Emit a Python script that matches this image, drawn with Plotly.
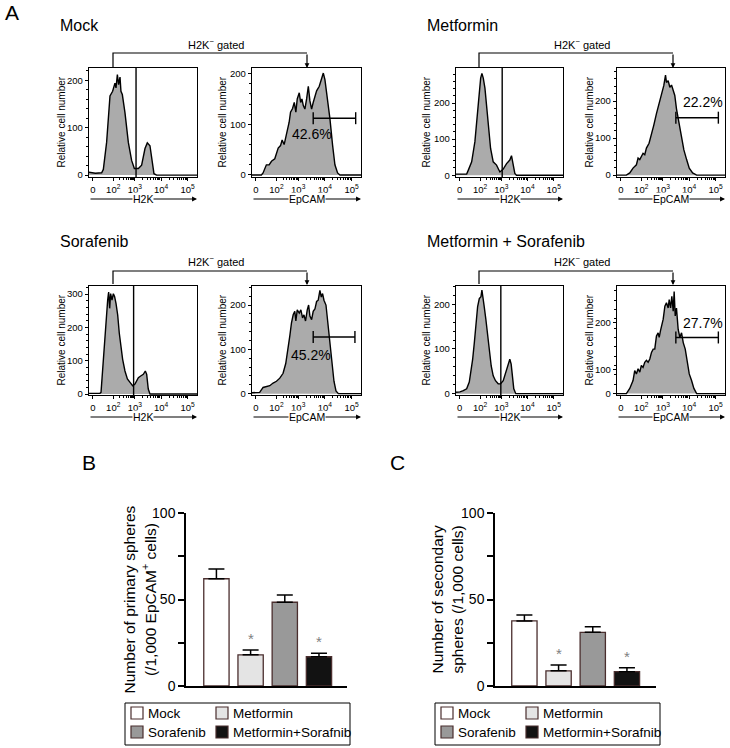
import math
import plotly.graph_objects as go

W, H = 730, 748
FONT = "Arial, Liberation Sans, sans-serif"


def PX(x):
    return x / W


def PY(y):
    return 1 - y / H


# ---------------- data: flow histograms (channel, count) ----------------
HIST_TICK_TEXT = ["0", "10<sup>2</sup>", "10<sup>3</sup>", "10<sup>4</sup>", "10<sup>5</sup>"]
HIST_TICK_CH = [36, 230, 434, 684, 935]

MOCK_H2K_CH = [0, 60, 120, 136, 167, 199, 224, 246, 256, 269, 281, 294, 303, 316, 341, 373, 404, 430, 468, 499, 531, 553, 578, 600, 616, 641, 1024]
MOCK_H2K_N = [6, 4, 5, 12, 69, 167, 177, 194, 184, 212, 191, 207, 177, 170, 132, 69, 31, 14, 14, 21, 56, 68, 62, 28, 3, 0, 0]

MOCK_EP_CH = [0, 88, 104, 135, 161, 183, 214, 246, 268, 283, 302, 324, 340, 349, 362, 381, 397, 412, 425, 444, 457, 469, 482, 497, 513, 529, 544, 560, 575, 591, 607, 632, 654, 670, 685, 707, 732, 757, 779, 804, 826, 1024]
MOCK_EP_N = [0, 0, 4, 20, 20, 27, 32, 53, 58, 69, 60, 79, 90, 104, 124, 131, 143, 124, 150, 162, 143, 150, 137, 130, 150, 175, 146, 130, 143, 156, 166, 175, 188, 201, 188, 156, 111, 59, 20, 4, 0, 0]

MET_H2K_CH = [0, 102, 118, 150, 181, 204, 223, 236, 248, 261, 277, 293, 312, 331, 356, 388, 420, 452, 484, 515, 531, 547, 563, 579, 1024]
MET_H2K_N = [3, 3, 14, 37, 93, 167, 232, 269, 282, 269, 241, 194, 130, 74, 37, 28, 9, 17, 32, 42, 54, 32, 5, 0, 0]

MET_EP_CH = [0, 89, 121, 152, 184, 200, 216, 231, 247, 263, 279, 304, 327, 349, 374, 400, 422, 444, 460, 469, 485, 501, 517, 533, 548, 564, 590, 612, 634, 660, 685, 717, 755, 1024]
MET_EP_N = [0, 0, 6, 19, 28, 46, 42, 51, 59, 55, 73, 86, 108, 135, 166, 197, 224, 242, 270, 250, 255, 237, 243, 228, 215, 179, 135, 99, 68, 42, 19, 6, 0, 0]

SOR_H2K_CH = [0, 104, 114, 130, 145, 161, 177, 186, 196, 205, 218, 231, 243, 256, 272, 287, 300, 319, 341, 364, 389, 414, 436, 452, 468, 490, 515, 534, 547, 562, 578, 1024]
SOR_H2K_N = [2, 2, 5, 74, 153, 232, 282, 306, 257, 301, 282, 301, 292, 272, 237, 183, 143, 104, 69, 45, 35, 25, 30, 40, 49, 54, 59, 69, 59, 15, 0, 0]

SOR_EP_CH = [0, 72, 104, 135, 167, 198, 230, 261, 292, 317, 340, 355, 371, 387, 402, 412, 425, 444, 459, 475, 488, 503, 519, 532, 544, 560, 575, 591, 607, 622, 638, 651, 663, 676, 695, 713, 732, 751, 770, 789, 811, 1024]
SOR_EP_N = [2, 3, 14, 16, 18, 24, 28, 35, 46, 68, 101, 130, 160, 178, 186, 164, 189, 182, 189, 171, 178, 164, 189, 200, 175, 167, 186, 191, 208, 211, 233, 218, 226, 211, 200, 160, 116, 72, 28, 6, 0, 0]

MS_H2K_CH = [0, 38, 70, 102, 127, 143, 159, 175, 191, 207, 223, 239, 248, 258, 270, 286, 302, 318, 337, 356, 378, 404, 426, 452, 477, 499, 515, 528, 541, 553, 572, 1024]
MS_H2K_N = [3, 4, 7, 11, 26, 51, 76, 113, 158, 195, 213, 217, 232, 210, 195, 166, 136, 99, 62, 40, 29, 22, 22, 29, 48, 62, 77, 66, 40, 11, 0, 0]

MS_EP_CH = [0, 89, 121, 152, 168, 184, 200, 216, 231, 247, 263, 279, 295, 311, 327, 343, 358, 374, 390, 400, 412, 425, 438, 454, 469, 485, 495, 508, 520, 533, 542, 552, 564, 580, 596, 612, 628, 647, 666, 685, 707, 729, 755, 1024]
MS_EP_N = [0, 0, 11, 28, 49, 42, 53, 46, 60, 56, 67, 71, 67, 74, 88, 95, 95, 123, 130, 120, 134, 148, 159, 187, 194, 183, 201, 183, 208, 176, 218, 166, 183, 137, 120, 130, 109, 95, 67, 42, 28, 11, 0, 0]

# H2K gate (channel) per condition and EpCAM+ gate (lo, hi, level) with percentages
CONDITIONS = ["Mock", "Metformin", "Sorafenib", "Metformin + Sorafenib"]
H2K_GATE = [446, 442, 423, 429]
EP_GATE_LO = [575, 558, 575, 558]
EP_GATE_HI = [974, 961, 967, 961]
EP_GATE_LEVEL = [112, 155, 128, 120]
EP_PCT = ["42.6%", "22.2%", "45.2%", "27.7%"]

# ---------------- data: sphere bars ----------------
GROUPS = ["Mock", "Metformin", "Sorafenib", "Metformin+Sorafnib"]
PRIMARY = [62.0, 18.0, 48.4, 16.9]
PRIMARY_ERR = [5.6, 2.8, 4.2, 2.0]
SECONDARY = [37.6, 8.8, 31.0, 8.3]
SECONDARY_ERR = [3.4, 3.3, 3.3, 2.3]
SIGNIF = ["", "*", "", "*"]
BAR_TICKS = [0, 50, 100]
BAR_COLORS = ["#ffffff", "#e4e4e4", "#999999", "#121212"]
BAR_EDGE = "#4a2e2e"

# ---------------- figure ----------------
fig = go.Figure()
layout = dict(
    template="none",
    width=W, height=H, autosize=False,
    margin=dict(l=0, r=0, t=0, b=0, pad=0, autoexpand=False),
    paper_bgcolor="white", plot_bgcolor="white", showlegend=False,
    font=dict(family=FONT, color="black"),
)
shapes = []
annotations = []

minor_x = []
for base, span in [(230, 204), (434, 250), (684, 251)]:
    for k in range(2, 10):
        minor_x.append(base + span * math.log10(k))

row1 = (68, 177)
row2 = (286, 395)
colA = (89, 197)
colB = (252, 361)
colC = (456, 563)
colD = (617, 725)
panels = [
    (MOCK_H2K_CH, MOCK_H2K_N, colA, row1, (-4, 226), [0, 100, 200], None, "H2K", 0, 61, None),
    (MOCK_EP_CH, MOCK_EP_N, colB, row1, (-4, 211), [0, 100, 200], None, "EpCAM", 0, 222, (560, 80)),
    (MET_H2K_CH, MET_H2K_N, colC, row1, (-5, 297), [0, 100, 200], None, "H2K", 1, 426, None),
    (MET_EP_CH, MET_EP_N, colD, row1, (-5, 289), [0, 100, 200], None, "EpCAM", 1, 589, (815, 197)),
    (SOR_H2K_CH, SOR_H2K_N, colA, row2, (-3, 324), [0, 100, 200, 300], None, "H2K", 2, 61, None),
    (SOR_EP_CH, SOR_EP_N, colB, row2, (-3, 243), [0, 100, 200], None, "EpCAM", 2, 222, (550, 88)),
    (MS_H2K_CH, MS_H2K_N, colC, row2, (-3, 241), [0, 100, 200], None, "H2K", 3, 426, None),
    (MS_EP_CH, MS_EP_N, colD, row2, (-3, 230), [0, 51, 152], ["0", "100", "200"], "EpCAM", 3, 589, (812, 150)),
]

for i, (ch, n, xd, yd, yr, tv, tt, kind, ci, ylx, pct) in enumerate(panels, start=1):
    xa = "x" if i == 1 else f"x{i}"
    ya = "y" if i == 1 else f"y{i}"
    fig.add_trace(go.Scatter(
        x=ch, y=n, xaxis=xa, yaxis=ya, mode="lines",
        line=dict(color="black", width=1.4), fill="tozeroy", fillcolor="#ababab",
        hoverinfo="skip",
    ))
    layout[f"xaxis{i}"] = dict(
        domain=[PX(xd[0]), PX(xd[1])], anchor=ya, range=[0, 1024], automargin=False,
        showline=True, mirror=True, linecolor="black", linewidth=1.4,
        ticks="outside", ticklen=3, tickwidth=1, tickcolor="black",
        tickmode="array", tickvals=HIST_TICK_CH, ticktext=HIST_TICK_TEXT,
        tickfont=dict(size=9.5), showgrid=False, zeroline=False,
        minor=dict(tickmode="array", tickvals=minor_x, ticks="outside", ticklen=2, tickcolor="black", showgrid=False),
    )
    layout[f"yaxis{i}"] = dict(
        domain=[PY(yd[1]), PY(yd[0])], anchor=xa, range=list(yr), automargin=False,
        showline=True, mirror=True, linecolor="black", linewidth=1.4,
        ticks="outside", ticklen=3, tickwidth=1, tickcolor="black",
        tickmode="array", tickvals=tv, ticktext=tt if tt else [str(v) for v in tv],
        tickfont=dict(size=9.5), showgrid=False, zeroline=False,
        minor=dict(ticks="outside", ticklen=2, dtick=20, tickcolor="black", showgrid=False),
    )
    annotations.append(dict(
        x=PX(ylx), y=PY((yd[0] + yd[1]) / 2), xref="paper", yref="paper",
        text="Relative cell number", textangle=-90, showarrow=False,
        font=dict(size=10), xanchor="center", yanchor="middle",
    ))
    yline = yd[1] + 22
    annotations.append(dict(
        x=PX(xd[1]), y=PY(yline), xref="paper", yref="paper", text="",
        showarrow=True, ax=-(xd[1] - xd[0]), ay=0, axref="pixel", ayref="pixel",
        arrowhead=2, arrowsize=0.9, arrowwidth=1.1, arrowcolor="black",
    ))
    annotations.append(dict(
        x=PX((xd[0] + xd[1]) / 2), y=PY(yline), xref="paper", yref="paper",
        text=kind, showarrow=False, font=dict(size=10.5), bgcolor="white",
        borderpad=0, xanchor="center", yanchor="middle",
    ))
    if kind == "H2K":
        shapes.append(dict(
            type="line", xref=xa, yref=f"{ya} domain",
            x0=H2K_GATE[ci], x1=H2K_GATE[ci], y0=0, y1=1,
            line=dict(color="black", width=1.4),
        ))
    else:
        lvl = EP_GATE_LEVEL[ci]
        shapes.append(dict(
            type="line", xref=xa, yref=ya,
            x0=EP_GATE_LO[ci], x1=EP_GATE_HI[ci], y0=lvl, y1=lvl,
            line=dict(color="black", width=1.4),
        ))
        for xe in (EP_GATE_LO[ci], EP_GATE_HI[ci]):
            shapes.append(dict(
                type="line", xref=xa, yref=ya, ysizemode="pixel", yanchor=lvl,
                x0=xe, x1=xe, y0=-6, y1=6, line=dict(color="black", width=1.4),
            ))
        annotations.append(dict(
            x=pct[0], y=pct[1], xref=xa, yref=ya, text=EP_PCT[ci],
            showarrow=False, font=dict(size=14), xanchor="center", yanchor="middle",
        ))

titles = [(58, 25, 0), (425, 25, 1), (58, 241, 2), (425, 241, 3)]
for tx, ty, ci in titles:
    annotations.append(dict(
        x=PX(tx), y=PY(ty), xref="paper", yref="paper", text=CONDITIONS[ci],
        showarrow=False, font=dict(size=16), xanchor="left", yanchor="middle",
    ))

brackets = [(113, 307, 53, 67, 44), (479, 673, 53, 67, 44), (113, 307, 271, 284, 261), (479, 673, 271, 284, 261)]
for bl, br, bt, bb, ty in brackets:
    shapes.append(dict(
        type="path", xref="paper", yref="paper",
        path=f"M {PX(bl)},{PY(bb)} L {PX(bl)},{PY(bt)} L {PX(br)},{PY(bt)}",
        line=dict(color="black", width=1.2),
    ))
    annotations.append(dict(
        x=PX(br), y=PY(bb + 1), xref="paper", yref="paper", text="",
        showarrow=True, ax=0, ay=-(bb + 1 - bt), axref="pixel", ayref="pixel",
        arrowhead=2, arrowsize=0.8, arrowwidth=1.2, arrowcolor="black",
    ))
    annotations.append(dict(
        x=PX((bl + br) / 2 + 6), y=PY(ty), xref="paper", yref="paper",
        text="H2K<sup>−</sup> gated", showarrow=False, font=dict(size=11),
        xanchor="center", yanchor="middle",
    ))

for letter, lx, ly in [("A", 3, 13), ("B", 80, 462), ("C", 388, 462)]:
    annotations.append(dict(
        x=PX(lx), y=PY(ly), xref="paper", yref="paper", text=letter,
        showarrow=False, font=dict(size=21), xanchor="left", yanchor="middle",
    ))

# ---------------- bar charts ----------------
bar_panels = [
    (9, PRIMARY, PRIMARY_ERR, (186, 347), (-0.89, 3.82),
     [(128.5, "Number of primary spheres"), (149, "(/1,000 EpCAM<sup>+</sup> cells)")], 125),
    (10, SECONDARY, SECONDARY_ERR, (495, 656), (-0.86, 3.85),
     [(436.5, "Number of secondary"), (456.5, "spheres (/1,000 cells)")], 435),
]
bar_y = (513, 686)
for idx, vals, errs, xd, xr, ylines, legx in bar_panels:
    xa, ya = f"x{idx}", f"y{idx}"
    fig.add_trace(go.Bar(
        x=list(range(len(GROUPS))), y=vals, xaxis=xa, yaxis=ya, width=0.74,
        marker=dict(color=BAR_COLORS, line=dict(color=BAR_EDGE, width=1.3)),
        error_y=dict(type="data", symmetric=False, array=errs, arrayminus=[0] * len(errs),
                     color="black", thickness=1.5, width=8),
        hoverinfo="skip",
    ))
    layout[f"xaxis{idx}"] = dict(
        domain=[PX(xd[0]), PX(xd[1])], anchor=ya, range=list(xr), automargin=False,
        showline=True, linecolor="black", linewidth=1.5, ticks="",
        showticklabels=False, showgrid=False, zeroline=False,
    )
    layout[f"yaxis{idx}"] = dict(
        domain=[PY(bar_y[1]), PY(bar_y[0])], anchor=xa, range=[0, 100], automargin=False,
        showline=True, linecolor="black", linewidth=1.5,
        ticks="outside", ticklen=6, tickwidth=1.5, tickcolor="black",
        tickmode="array", tickvals=BAR_TICKS, tickfont=dict(size=14),
        showgrid=False, zeroline=False,
        minor=dict(tickmode="array", tickvals=[25, 75], ticks="outside", ticklen=6, tickwidth=1.5, tickcolor="black", showgrid=False),
    )
    for k, s in enumerate(SIGNIF):
        if s:
            annotations.append(dict(
                x=k, y=vals[k] + errs[k], xref=xa, yref=ya, text=s, showarrow=False,
                font=dict(size=15, color="#808080"), yanchor="bottom", yshift=1,
            ))
    for lxp, txt in ylines:
        annotations.append(dict(
            x=PX(lxp), y=PY(600), xref="paper", yref="paper", text=txt,
            textangle=-90, showarrow=False, font=dict(size=15.5),
            xanchor="center", yanchor="middle",
        ))
    shapes.append(dict(
        type="rect", xref="paper", yref="paper",
        x0=PX(legx), x1=PX(legx + 225), y0=PY(745), y1=PY(703),
        line=dict(color="black", width=1), fillcolor="white",
    ))
    items = [(0, 713, 0), (85, 713, 1), (0, 732, 2), (85, 732, 3)]
    for dx, cy, gi in items:
        sx = legx + 6 + dx
        shapes.append(dict(
            type="rect", xref="paper", yref="paper",
            x0=PX(sx), x1=PX(sx + 12), y0=PY(cy + 6), y1=PY(cy - 6),
            line=dict(color=BAR_EDGE, width=1.2), fillcolor=BAR_COLORS[gi],
        ))
        annotations.append(dict(
            x=PX(sx + 15), y=PY(cy), xref="paper", yref="paper", text=GROUPS[gi],
            showarrow=False, font=dict(size=13.5), xanchor="left", yanchor="middle",
        ))

layout["shapes"] = shapes
layout["annotations"] = annotations
fig.update_layout(**layout)
fig.write_html(
    "out.html",
    config={"displayModeBar": False},
    post_script="document.body.style.margin='0';document.body.style.padding='0';document.documentElement.style.overflow='hidden';",
)
